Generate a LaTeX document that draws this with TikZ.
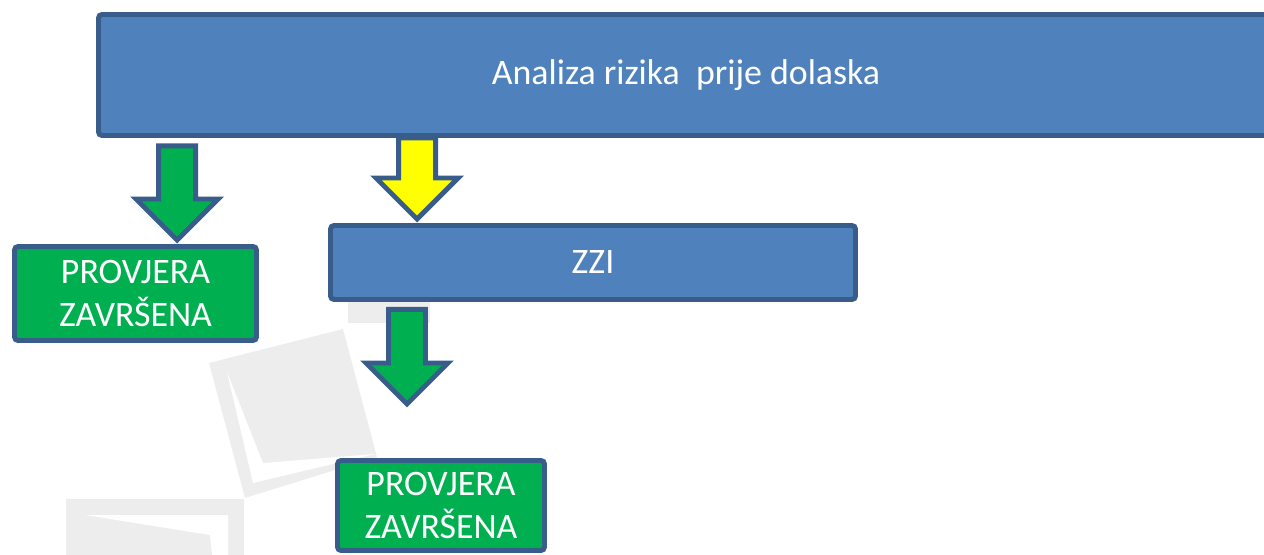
\documentclass[tikz,border=0pt]{standalone}
\usepackage{fontspec}
\setmainfont{Carlito}
\usetikzlibrary{calc}

\definecolor{plava}{RGB}{79,129,189}
\definecolor{rub}{RGB}{56,93,138}
\definecolor{zelena}{RGB}{0,176,80}
\definecolor{zuta}{RGB}{255,255,0}
\definecolor{sjena}{RGB}{237,237,237}

% block arrow from #1 down to tip #2, filled with #3
\newcommand{\strelica}[3]{%
    \draw[strelica, fill=#3] let \p1=(#1), \p2=(#2) in
        (\x2-0.185cm,\y1) -- (\x2+0.185cm,\y1) -- (\x2+0.185cm,\y2+0.41cm)
        -- (\x2+0.41cm,\y2+0.41cm) -- (\x2,\y2) -- (\x2-0.41cm,\y2+0.41cm)
        -- (\x2-0.185cm,\y2+0.41cm) -- cycle;}

\begin{document}
\begin{tikzpicture}[
    kutija/.style={draw=rub, line width=1.4pt, rounded corners=1pt, inner sep=0pt,
        text=white, align=center, font=\fontsize{10.2}{12.2}\selectfont},
    strelica/.style={draw=rub, line width=1.4pt, line join=miter}
]
    \useasboundingbox (0,0) rectangle (12.64,5.54);

    % Watermark
    \fill[sjena] (3.48,3.14) rectangle (4.30,2.31);
    \fill[sjena] (2.09,1.91) -- (3.43,2.25) -- (3.77,0.97) -- (2.45,0.56) -- cycle;
    \fill[white] (2.27,1.82) -- (2.63,0.91) -- (3.75,1.00) -- (2.53,0.71) -- cycle;
    \fill[sjena] (0.66,0.55) rectangle (2.44,-0.1);
    \fill[white] (0.85,0.39) -- (2.28,0.39) -- (2.28,-0.1) -- (2.13,-0.1) -- (2.10,0.19) -- cycle;

    % Boxes
    \node[kutija, fill=plava, minimum width=11.75cm, minimum height=1.21cm] (analiza) at (6.86,4.79) {Analiza rizika \ prije dolaska};
    \node[kutija, fill=zelena, minimum width=2.42cm, minimum height=0.94cm] (provjera1) at (1.355,2.605) {PROVJERA\\ZAVRŠENA};
    \node[kutija, fill=plava, minimum width=5.25cm, minimum height=0.74cm] (zzi) at (5.93,2.915) {ZZI};
    \node[kutija, fill=zelena, minimum width=2.07cm, minimum height=0.90cm] (provjera2) at (4.41,0.485) {PROVJERA\\ZAVRŠENA};

    % Arrows
    \coordinate (kraj) at (4.07,1.50);
    \strelica{$(analiza.south west)+(0.81,-0.08)$}{$(provjera1.north west)+(1.65,0.04)$}{zelena}
    \strelica{analiza.south}{$(zzi.north west)+(0.89,0.04)$}{zuta}
    \strelica{$(zzi.south)+(0,-0.075)$}{kraj}{zelena}
\end{tikzpicture}
\end{document}
